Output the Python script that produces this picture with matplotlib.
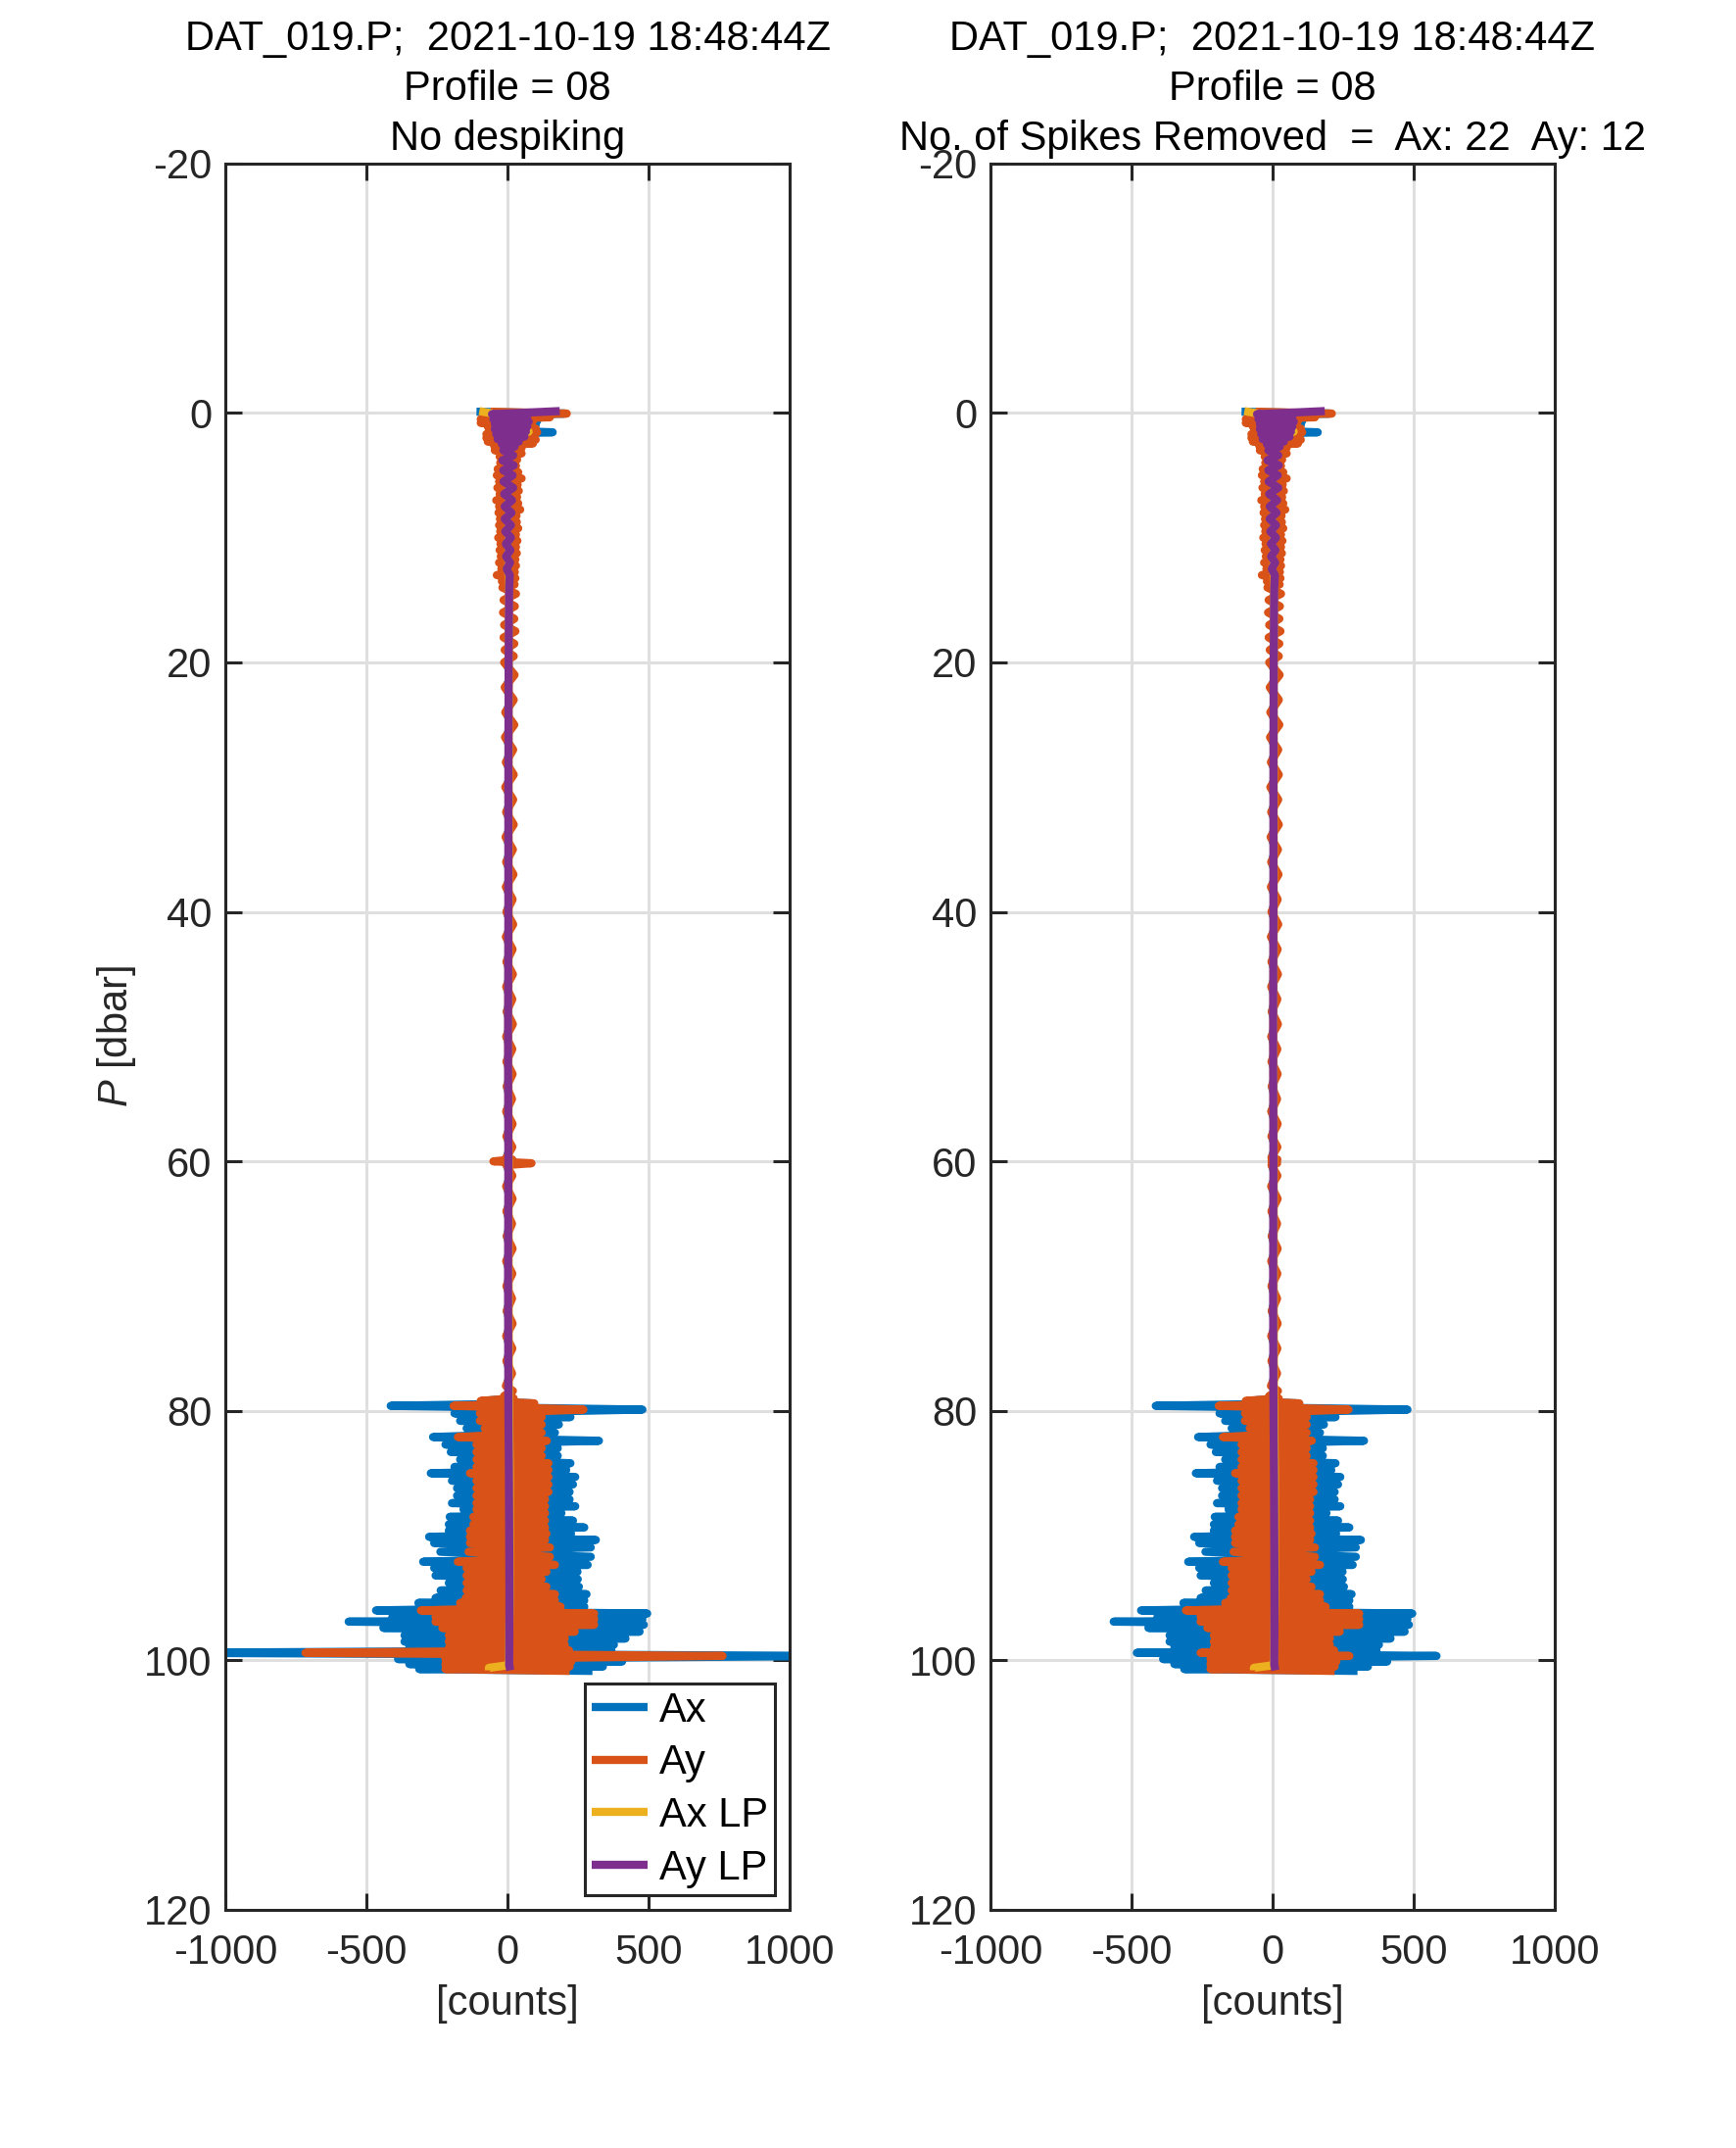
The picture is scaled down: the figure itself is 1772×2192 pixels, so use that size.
import numpy as np
import matplotlib
matplotlib.use('Agg')
import matplotlib.pyplot as plt

plt.rcParams.update({
    'font.family': ['Liberation Sans', 'DejaVu Sans'],
    'font.size': 15,
    'axes.unicode_minus': False,
    'mathtext.fontset': 'custom',
    'mathtext.it': 'Liberation Sans:italic',
    'mathtext.rm': 'Liberation Sans',
})

# ---------------- data ----------------
# pressure levels [dbar] of the Ax / Ay samples (each level: one low and one high swing)
P_levels = [-0.1, 0.2, 0.5, 0.8, 1.1, 1.4, 1.7, 2.0, 2.3, 2.6,
            3.0, 3.5, 4.0, 4.5, 5.0, 5.5, 6.0, 6.5, 7.0, 7.5,
            8.0, 8.5, 9.0, 9.5, 10.0, 10.5, 11.0, 11.5, 12.0, 12.5,
            13.0, 13.5, 14.0, 15.0, 16.0, 17.0, 18.0, 19.0, 20.0, 22.0,
            24.0, 26.0, 28.0, 30.0, 32.0, 34.0, 36.0, 38.0, 40.0, 42.0,
            44.0, 46.0, 48.0, 50.0, 52.0, 54.0, 56.0, 58.0, 59.7, 60.0, 60.3, 62.0,
            64.0, 66.0, 68.0, 70.0, 72.0, 74.0, 76.0, 78.0, 78.8, 79.2,
            79.6, 80.2, 80.8, 81.4, 82.1, 82.7, 83.3, 83.9, 84.5, 85.0,
            85.6, 86.2, 86.8, 87.4, 87.9, 88.5, 89.1, 89.6, 90.1, 90.6,
            91.3, 92.1, 92.6, 93.2, 93.8, 94.4, 95.0, 95.4, 96.0, 96.5,
            96.9, 97.4, 98.0, 98.5, 99.0, 99.4, 99.9, 100.3, 100.7]

# despiked Ax [counts]: low / high swing at each level
ax_lo = [-110, -60, -60, -50, -40, -50, -40, -40, -30, -25,
         -20, -15, -14, -18, -20, -16, -18, -15, -20, -15,
         -16, -14, -15, -13, -16, -12, -14, -12, -15, -11,
         -18, -10, -9, -7, -8, -6, -7, -5, -6, -5,
         -4, -5, -3, -4, -3, -4, -3, -3, -2, -3,
         -2, -3, -2, -3, -2, -2, -3, -2, -3, -2, -2, -3,
         -2, -2, -3, -2, -2, -3, -2, -3, -6, -80,
         -414, -188, -168, -145, -264, -220, -201, -168, -188, -272,
         -197, -179, -179, -197, -156, -205, -208, -208, -278, -260,
         -238, -299, -260, -255, -208, -237, -255, -316, -466, -408,
         -563, -440, -365, -365, -348, -481, -388, -348, -313]
ax_hi = [200, 60, 105, 100, 60, 160, 50, 50, 40, 30,
         25, 20, 18, 22, 28, 20, 22, 18, 20, 25,
         18, 18, 20, 16, 18, 16, 18, 15, 16, 14,
         15, 14, 16, 14, 13, 15, 13, 12, 13, 12,
         13, 11, 12, 11, 12, 10, 11, 10, 11, 10,
         10, 9, 10, 9, 10, 9, 10, 9, 10, 9, 9, 10,
         9, 10, 9, 9, 10, 9, 9, 10, 12, 85,
         478, 223, 182, 168, 324, 178, 178, 223, 208, 240,
         232, 220, 220, 240, 191, 232, 272, 225, 313, 295,
         295, 284, 248, 249, 253, 280, 272, 272, 495, 478,
         483, 468, 418, 377, 368, 581, 406, 338, 301]

# despiked Ay [counts]: low / high swing at each level
ay_lo = [-60, -80, -95, -95, -70, -65, -75, -75, -70, -48,
         -45, -28, -26, -35, -38, -30, -36, -28, -40, -30,
         -32, -27, -30, -26, -33, -25, -28, -24, -30, -22,
         -38, -20, -18, -14, -16, -12, -14, -10, -12, -10,
         -8, -9, -6, -8, -5, -7, -5, -6, -4, -6,
         -4, -5, -3, -5, -4, -3, -5, -4, -4, -3, -4, -5,
         -4, -3, -5, -4, -3, -5, -4, -6, -12, -95,
         -191, -98, -98, -81, -176, -110, -110, -110, -110, -133,
         -110, -110, -110, -110, -110, -121, -121, -133, -133, -133,
         -138, -176, -145, -145, -145, -145, -148, -168, -307, -255,
         -255, -231, -208, -208, -208, -255, -220, -220, -220]
ay_hi = [210, 150, 90, 85, 100, 105, 95, 100, 90, 50,
         50, 34, 30, 38, 50, 36, 40, 34, 38, 45,
         32, 33, 38, 30, 35, 30, 33, 28, 30, 26,
         28, 25, 30, 26, 24, 28, 24, 22, 25, 22,
         24, 20, 22, 20, 22, 19, 21, 18, 20, 18,
         19, 17, 19, 17, 18, 16, 18, 17, 17, 16, 17, 18,
         16, 18, 17, 16, 18, 17, 16, 19, 22, 95,
         269, 121, 121, 121, 139, 121, 121, 145, 145, 145,
         145, 145, 133, 133, 133, 133, 133, 138, 133, 150,
         150, 168, 138, 121, 138, 168, 168, 188, 307, 307,
         307, 238, 203, 203, 218, 272, 226, 220, 220]

# spikes present in the raw record (removed in the despiked record)
spike_P_ax = [99.4]
spike_ax_lo = [-1200]
spike_ax_hi = [1200]
spike_P_ay = [60.0, 99.4]
spike_ay_lo = [-50, -716]
spike_ay_hi = [85, 762]

# low-passed signals
P_lp = [-0.15, 0.1, 0.3, 0.5, 0.7, 0.9, 1.1, 1.3, 1.5, 1.7,
        1.9, 2.1, 2.3, 2.5, 2.7, 3.0, 3.4, 3.8, 4.2, 4.6,
        5.0, 5.5, 6.0, 6.5, 7.0, 7.5, 8.0, 8.5, 9.0, 9.5,
        10.0, 10.5, 11.0, 11.5, 12.0, 12.5, 13.0, 14.0, 16.0, 20.0,
        30.0, 40.0, 50.0, 60.0, 70.0, 79.0, 85.0, 90.0, 95.0, 100.0,
        100.4, 100.6, 100.8]
ax_lp = [-100, -40, 55, -40, 60, -35, 55, -35, 75, -30,
         50, -25, 30, -12, 18, -10, 14, -12, 15, -10,
         12, -9, 14, -8, 11, -6, 10, -6, 8, -5,
         8, -4, 7, -3, 6, -2, 6, 6, 5, 4,
         4, 4, 3, 4, 4, 5, 8, 8, 8, 5,
         0, -66, -66]
ay_lp = [185, -55, 70, -50, 75, -45, 70, -45, 65, -40,
         60, -35, 40, -20, 25, -15, 20, -18, 22, -15,
         18, -14, 20, -12, 16, -10, 14, -10, 12, -8,
         12, -6, 10, -5, 9, -3, 8, 6, 5, 4,
         3, 3, 2, 3, 2, 3, 5, 6, 7, 6,
         6, 8, 10]

series_names = ['Ax', 'Ay', 'Ax LP', 'Ay LP']
colors = ['#0072BD', '#D95319', '#EDB120', '#7E2F8E']
xticks = [-1000, -500, 0, 500, 1000]
yticks = [-20, 0, 20, 40, 60, 80, 100, 120]
title_head = 'DAT_019.P;  2021-10-19 18:48:44Z\nProfile = 08\n'
title_left = 'No despiking'
title_right = 'No. of Spikes Removed  =  Ax: 22  Ay: 12'


def with_spikes(lo, hi, sp_P, sp_lo, sp_hi):
    lo = list(lo); hi = list(hi)
    for p, a, b in zip(sp_P, sp_lo, sp_hi):
        i = P_levels.index(p)
        lo[i] = a; hi[i] = b
    return lo, hi


def swing(lo, hi):
    P = np.asarray(P_levels, float)
    mid = np.append((P[:-1] + P[1:]) / 2, P[-1] + 0.15)
    y = np.empty(2 * len(P)); x = np.empty(2 * len(P))
    y[0::2] = P; y[1::2] = mid
    x[0::2] = lo; x[1::2] = hi
    return x, y


def draw(ax, axlo, axhi, aylo, ayhi, title):
    lw = 3.0
    kw = dict(lw=lw, solid_joinstyle='round', solid_capstyle='butt')
    x, y = swing(axlo, axhi)
    l1, = ax.plot(x, y, color=colors[0], **kw)
    x, y = swing(aylo, ayhi)
    l2, = ax.plot(x, y, color=colors[1], **kw)
    l3, = ax.plot(ax_lp, P_lp, color=colors[2], **kw)
    l4, = ax.plot(ay_lp, P_lp, color=colors[3], **kw)
    ax.set_xlim(-1000, 1000)
    ax.set_ylim(120, -20)
    ax.set_xticks(xticks)
    ax.set_yticks(yticks)
    ax.tick_params(direction='in', length=6, width=1.1, color='#262626',
                   labelcolor='#262626', top=True, right=True, labelsize=15)
    ax.tick_params(axis='x', pad=8.5)
    ax.tick_params(axis='y', pad=5)
    for s in ax.spines.values():
        s.set_color('#262626'); s.set_linewidth(1.1)
    ax.grid(True, color='#dfdfdf', linewidth=1.1)
    ax.set_axisbelow(True)
    ax.set_xlabel('[counts]', labelpad=4.5, color='#262626', fontsize=15)
    ax.set_title(title_head + title, fontsize=15, pad=5, linespacing=1.35)
    return [l1, l2, l3, l4]


fig = plt.figure(figsize=(8.86, 10.96), dpi=200)
axL = fig.add_axes([0.1298, 0.1109, 0.3251, 0.8130])
axR = fig.add_axes([0.5705, 0.1109, 0.3251, 0.8130])

raw_ax_lo, raw_ax_hi = with_spikes(ax_lo, ax_hi, spike_P_ax, spike_ax_lo, spike_ax_hi)
raw_ay_lo, raw_ay_hi = with_spikes(ay_lo, ay_hi, spike_P_ay, spike_ay_lo, spike_ay_hi)

handles = draw(axL, raw_ax_lo, raw_ax_hi, raw_ay_lo, raw_ay_hi, title_left)
draw(axR, ax_lo, ax_hi, ay_lo, ay_hi, title_right)

axL.set_ylabel(r'$\it{P}$ [dbar]', labelpad=2, color='#262626', fontsize=15)

leg = axL.legend(handles, series_names, loc='lower right', bbox_to_anchor=(1, 0),
                 borderaxespad=0.36, fontsize=15, frameon=True, fancybox=False,
                 edgecolor='#262626', framealpha=1, borderpad=0.17,
                 handlelength=1.37, handletextpad=0.28, labelspacing=0.33)
leg.get_frame().set_linewidth(1.1)

fig.savefig('out.png', dpi=200, facecolor='white')
